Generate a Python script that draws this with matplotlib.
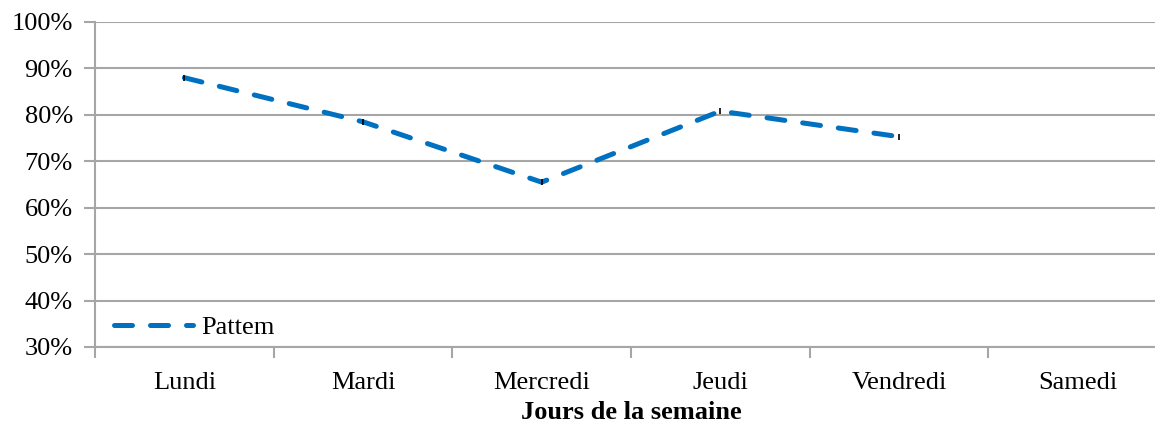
import matplotlib.pyplot as plt
from matplotlib.ticker import FixedLocator, PercentFormatter

# data
jours = ["Lundi", "Mardi", "Mercredi", "Jeudi", "Vendredi", "Samedi"]
pattern = [88.0, 78.5, 65.5, 80.8, 75.3]

plt.rcParams["font.family"] = ["Liberation Serif", "DejaVu Serif"]

fig = plt.figure(figsize=(11.55, 4.28), dpi=100)
ax = fig.add_axes([0.0823, 0.1893, 0.928, 0.7593])

x = list(range(len(jours)))
ax.plot(x[:len(pattern)], pattern, color="#0070C0", lw=3.6,
        dashes=(3.6, 3.6), dash_capstyle="round", label="Pattem")
ax.plot(x[:len(pattern)], pattern, ls="none", marker="|", ms=4,
        mew=1.2, color="black")

ax.set_xlim(-0.5, len(jours) - 0.5)
ax.set_ylim(30, 100)
ax.set_yticks(range(30, 101, 10))
ax.yaxis.set_major_formatter(PercentFormatter(decimals=0))
ax.grid(axis="y", color="#a6a6a6", lw=1.5)
ax.set_axisbelow(True)

ax.set_xticks(x)
ax.set_xticklabels(jours)
ax.xaxis.set_minor_locator(FixedLocator([i - 0.5 for i in range(len(jours) + 1)]))
ax.tick_params(axis="x", which="major", length=0, pad=18, labelsize=19)
ax.tick_params(axis="x", which="minor", length=8, width=1.5, color="#a6a6a6")
ax.tick_params(axis="y", length=8, width=1.5, color="#a6a6a6", pad=8, labelsize=19)

for s in ["top", "right"]:
    ax.spines[s].set_visible(False)
for s in ["left", "bottom"]:
    ax.spines[s].set_color("#a6a6a6")
    ax.spines[s].set_linewidth(1.5)

ax.set_xlabel("Jours de la semaine", fontweight="bold", fontsize=19, labelpad=5)

ax.legend(handles=ax.lines[:1], loc="lower left", frameon=False, fontsize=19,
          handlelength=3.0, handletextpad=0.3, borderaxespad=0.2,
          bbox_to_anchor=(0.003, -0.025))

plt.savefig("out.png", dpi=100)
